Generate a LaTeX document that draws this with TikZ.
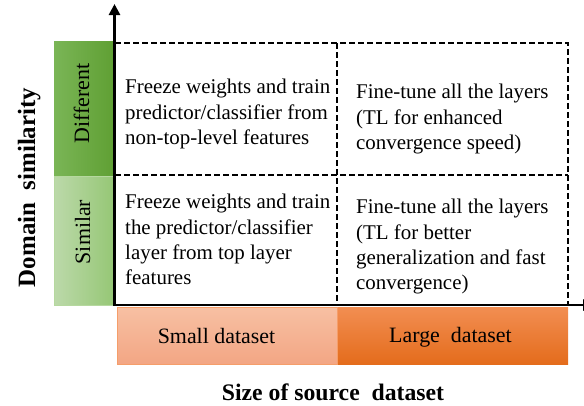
\documentclass[tikz,border=0pt]{standalone}
\usepackage{fontspec}
\setmainfont{Liberation Serif}
\usetikzlibrary{arrows.meta}

\definecolor{diffL}{RGB}{122,181,86}
\definecolor{diffR}{RGB}{96,160,52}
\definecolor{simL}{RGB}{188,217,170}
\definecolor{simR}{RGB}{150,199,118}
\definecolor{smallT}{RGB}{247,192,163}
\definecolor{smallB}{RGB}{243,166,132}
\definecolor{largeT}{RGB}{242,142,82}
\definecolor{largeB}{RGB}{228,108,28}

\tikzset{
  axis/.style={line width=2.6bp, -{Triangle[width=11bp,length=11bp]}},
  grid/.style={line width=1.1bp, dash pattern=on 5.5bp off 3.5bp},
  celltext/.style={anchor=north west, inner sep=0pt, align=left,
    font=\fontsize{21}{25.5}\selectfont},
  sidelabel/.style={anchor=base, inner sep=0pt, rotate=90,
    font=\fontsize{22}{26}\selectfont},
  sizelabel/.style={anchor=base, inner sep=0pt,
    font=\fontsize{22}{26}\selectfont},
  axistitle/.style={anchor=base, inner sep=0pt,
    font=\fontsize{23.8}{28}\selectfont\bfseries},
}

\begin{document}
\begin{tikzpicture}[x=1bp, y=-1bp]
\clip (0,0) rectangle (584,405);

% similarity bars
\shade[left color=diffL, right color=diffR] (54,41) rectangle (113,176);
\shade[left color=simL, right color=simR] (54,176) rectangle (113,305);
\draw[simR!70!white, line width=0.6bp] (54,176) rectangle (113,305);

% dataset size bars
\shade[top color=smallT, bottom color=smallB] (117,307) rectangle (337,364);
\draw[smallB!80!orange, line width=0.6bp] (117,307) rectangle (337,364);
\shade[top color=largeT, bottom color=largeB] (338,307) rectangle (568,364);

% dashed grid
\coordinate (gTL) at (115,43);
\coordinate (gTM) at (337,43);
\coordinate (gTR) at (568,43);
\coordinate (gML) at (115,175);
\coordinate (gMR) at (568,175);
\coordinate (gBM) at (337,305);
\coordinate (gBR) at (568,305);
\draw[grid] (gTL) -- (gTR) -- (gBR);
\draw[grid] (gML) -- (gMR);
\draw[grid] (gTM) -- (gBM);

% axes
\coordinate (origin) at (114.5,305);
\coordinate (yend) at (114.5,4);
\coordinate (xstart) at (113,305);
\coordinate (xend) at (594,305);
\draw[axis] (origin) -- (yend);
\draw[axis] (xstart) -- (xend);

% cell texts
\node[celltext] (c11) at (125,79) {Freeze weights and train\\predictor/classifier from\\non-top-level features};
\node[celltext] (c12) at (356,84) {Fine-tune all the layers\\(TL for enhanced\\convergence speed)};
\node[celltext] (c21) at (125,194) {Freeze weights and train\\the predictor/classifier\\layer from top layer\\features};
\node[celltext] (c22) at (356,199) {Fine-tune all the layers\\(TL for better\\generalization and fast\\convergence)};

% bar labels
\node[sidelabel] (diff) at (89,103.5) {Different};
\node[sidelabel] (sim) at (90,232) {Similar};
\node[sizelabel] (small) at (216.5,343) {Small dataset};
\node[sizelabel] (large) at (450.5,342) {Large\ \ dataset};

% axis titles
\node[axistitle, rotate=90, font=\fontsize{25}{29}\selectfont\bfseries] (ytitle) at (35,187.5) {Domain\ \ similarity};
\node[axistitle] (xtitle) at (333,400) {Size of source\ \ dataset};
\end{tikzpicture}
\end{document}
